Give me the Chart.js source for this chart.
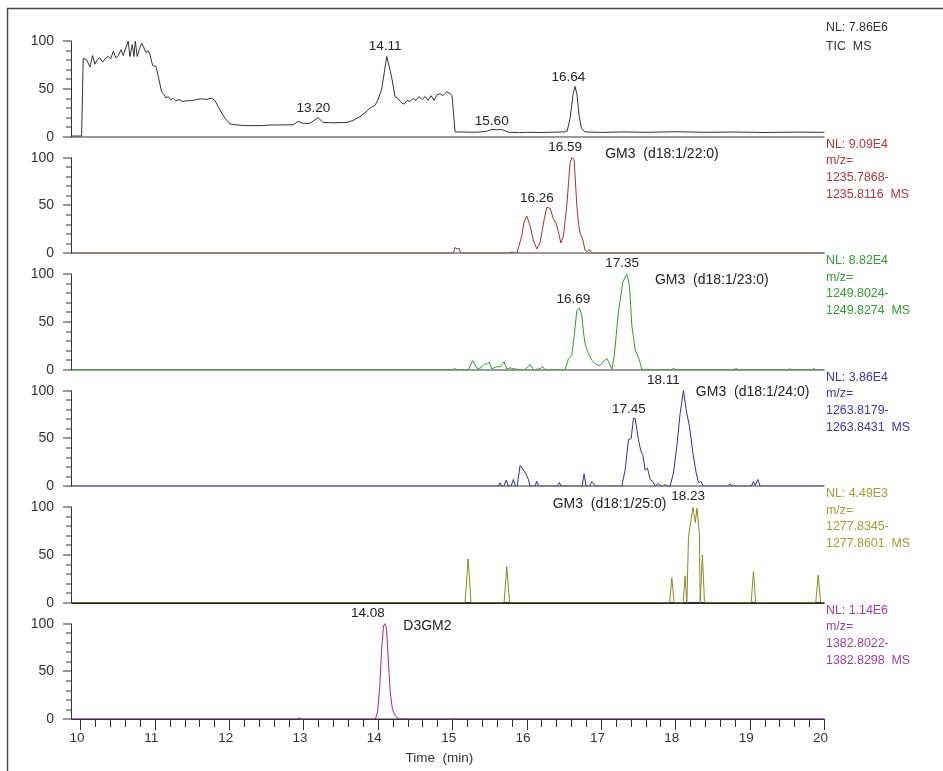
<!DOCTYPE html>
<html>
<head>
<meta charset="utf-8">
<script src="https://cdn.jsdelivr.net/npm/chart.js@4.4.1/dist/chart.umd.min.js"></script>
<style>
  html, body { margin: 0; padding: 0; background: #fff; }
  #wrap { position: relative; width: 943px; height: 771px; }
</style>
</head>
<body>
<div id="wrap"><canvas id="chrom"></canvas></div>
<script>
// [retention time (min), relative abundance (%)]
var ticTrace = [
  [9.88,0.7],[10.009,0.7],[10.031,82],[10.077,80.7],[10.121,73],[10.157,85],[10.188,76],[10.219,80.7],[10.256,82.5],[10.292,78],
  [10.323,81.5],[10.367,84],[10.400,81.5],[10.435,89.5],[10.471,82.5],[10.502,85],[10.538,91],[10.569,85],[10.605,93],[10.636,100],
  [10.659,84],[10.690,96.5],[10.713,84],[10.731,100],[10.757,84],[10.784,91],[10.817,98],[10.848,93],[10.874,88],[10.905,90],
  [10.928,86],[10.965,74.4],[11.009,73.7],[11.040,63],[11.086,47],[11.121,44],[11.144,40.4],[11.174,42],[11.207,38.5],[11.242,40.4],
  [11.278,37.7],[11.322,39],[11.368,36.8],[11.422,37.7],[11.489,37.7],[11.557,39],[11.624,39.7],[11.691,39],[11.758,40.4],[11.803,37.7],
  [11.870,28],[11.937,19.3],[12.005,13.4],[12.095,12.3],[12.229,11.6],[12.408,11.6],[12.587,12.3],[12.654,12.3],[12.852,12.5],[12.919,16],
  [12.987,14],[13.081,14],[13.188,20],[13.256,15],[13.390,14.5],[13.579,15],[13.659,17],[13.753,21],[13.834,26],[13.888,30],
  [13.955,33],[13.996,38.6],[14.045,50],[14.113,84],[14.157,70],[14.184,60],[14.224,42],[14.265,40],[14.305,36],[14.345,34],
  [14.386,38],[14.426,37],[14.467,40],[14.507,38],[14.547,42],[14.588,39],[14.628,42],[14.668,38],[14.709,43],[14.749,38],
  [14.789,44],[14.830,45],[14.870,43],[14.920,47],[14.964,45],[14.991,43],[15.032,5],[15.10,5],[15.30,4.6],[15.45,5.5],
  [15.53,7.7],[15.60,7.2],[15.66,7.5],[15.75,4.7],[15.90,4.3],[16.00,4.6],[16.20,4.4],[16.40,4.8],[16.50,5],[16.54,6],
  [16.58,20],[16.62,45],[16.645,52.6],[16.67,45],[16.70,22],[16.73,9],[16.78,5],[17.00,4.5],[17.30,5],[17.60,4.6],
  [18.00,5.2],[18.40,4.6],[18.80,4.9],[19.20,4.4],[19.60,4.8],[20.00,4.6]
];
var gm3c22Trace = [
  [9.88,0],[15.009,0],[15.032,6],[15.059,4.5],[15.086,5],[15.108,0],[15.772,0],[15.798,1.5],[15.825,0],[15.862,0],
  [15.929,18],[15.96,33],[15.996,39],[16.04,29],[16.085,13],[16.131,4.5],[16.175,11],[16.229,35],[16.265,48],[16.31,47],
  [16.354,36],[16.39,31],[16.421,22.5],[16.454,10.7],[16.489,18],[16.534,49.6],[16.579,95],[16.602,100],[16.633,98],[16.669,50],
  [16.693,30],[16.713,21],[16.75,14],[16.78,3],[16.807,2],[16.838,3.8],[16.871,0],[20,0]
];
var gm3c23Trace = [
  [9.88,0],[14.991,0],[15.03,1],[15.07,0],[15.21,0],[15.27,9.5],[15.33,1],[15.38,2],[15.435,6.6],[15.46,5.5],
  [15.49,7.9],[15.525,1],[15.59,3],[15.64,3],[15.69,8.4],[15.727,0.5],[15.77,2],[15.816,1],[15.906,0],[15.97,0],
  [16.04,5.3],[16.085,0],[16.175,1],[16.21,3.2],[16.24,0],[16.511,0],[16.556,11.3],[16.6,14.7],[16.633,35],[16.669,62],
  [16.704,64.6],[16.736,57],[16.758,40],[16.78,27],[16.825,17],[16.871,9.8],[16.915,6.5],[16.956,4.5],[16.982,4.6],[17.023,8],
  [17.072,12],[17.103,7],[17.14,0.5],[17.171,14],[17.229,60.4],[17.288,92],[17.342,100],[17.377,88],[17.409,46],[17.454,21],
  [17.511,10],[17.543,0],[17.94,0],[17.97,1.5],[18.0,0],[18.785,0],[18.81,1.3],[18.84,0],[19.51,0],[19.54,1],
  [19.565,0],[19.835,0],[19.86,1.2],[19.89,0],[20,0]
];
var gm3c24Trace = [
  [9.88,0],[15.614,0],[15.637,3.5],[15.664,0],[15.69,0],[15.718,6.2],[15.75,0],[15.785,0],[15.816,7],[15.845,0],
  [15.866,0],[15.906,21.5],[15.942,18],[15.987,12.5],[16.018,7],[16.04,0],[16.108,0],[16.131,5.2],[16.155,0],[16.41,0],
  [16.435,4],[16.458,0],[16.74,0],[16.767,13],[16.794,0],[16.841,0],[16.871,5],[16.892,3],[16.915,0],[17.274,0],
  [17.318,16.7],[17.363,48.6],[17.4,50],[17.431,71.2],[17.453,71],[17.498,48.6],[17.53,37],[17.557,33],[17.588,16.7],[17.619,19],
  [17.655,7],[17.691,5],[17.722,0],[17.767,3],[17.803,0],[17.83,0],[17.857,1.7],[17.884,0],[17.924,0],[17.969,14],
  [18.014,41.7],[18.058,76],[18.103,100],[18.139,80],[18.184,62.5],[18.23,35],[18.274,14],[18.305,3.5],[18.337,5],[18.372,0],
  [18.698,0],[18.731,2.4],[18.765,0],[19.014,0],[19.045,5],[19.068,1],[19.104,7],[19.135,0],[20,0]
];
var gm3c25Trace = [
  [9.88,0],[15.166,0],[15.207,45.8],[15.247,0],[15.69,0],[15.727,38],[15.765,0],[17.917,0],[17.947,26],[17.978,0],
  [18.099,0],[18.126,28],[18.149,0],[18.171,69],[18.23,100],[18.262,84],[18.285,99],[18.318,72],[18.328,0],[18.358,50],
  [18.386,0],[19.014,0],[19.045,33],[19.074,0],[19.882,0],[19.915,29],[19.949,0],[20,0]
];
var d3gm2Trace = [
  [9.88,0],[12.906,0],[12.937,1.5],[12.966,0],[13.96,0],[13.99,8],[14.02,35],[14.045,75],[14.07,98],[14.09,100],
  [14.11,95],[14.135,60],[14.16,28],[14.19,10],[14.23,3],[14.28,0.5],[14.32,0],[20,0]
];

// header text at the right of each trace
var ticInfo = ['NL: 7.86E6', 'TIC  MS'];
var gm3c22Info = ['NL: 9.09E4', 'm/z=', '1235.7868-', '1235.8116  MS'];
var gm3c23Info = ['NL: 8.82E4', 'm/z=', '1249.8024-', '1249.8274  MS'];
var gm3c24Info = ['NL: 3.86E4', 'm/z=', '1263.8179-', '1263.8431  MS'];
var gm3c25Info = ['NL: 4.49E3', 'm/z=', '1277.8345-', '1277.8601  MS'];
var d3gm2Info = ['NL: 1.14E6', 'm/z=', '1382.8022-', '1382.8298  MS'];

// compound names [panel, text, time, abundance] and peak apex labels [panel, text, time, abundance]
var compoundNames = [
  [1, 'GM3  (d18:1/22:0)', 17.05, 104],
  [2, 'GM3  (d18:1/23:0)', 17.72, 94],
  [3, 'GM3  (d18:1/24:0)', 18.27, 98.6],
  [4, 'GM3  (d18:1/25:0)', 16.345, 103.7],
  [5, 'D3GM2', 14.336, 97.7]
];
var peakLabels = [
  [0, '14.11', 14.09, 94.7], [0, '13.20', 13.125, 29.9], [0, '16.64', 16.556, 62.5], [0, '15.60', 15.525, 15.8],
  [1, '16.59', 16.511, 111], [1, '16.26', 16.131, 57.6],
  [2, '16.69', 16.623, 73.3], [2, '17.35', 17.278, 111.7],
  [3, '17.45', 17.37, 81], [3, '18.11', 17.833, 111.3],
  [4, '18.23', 18.166, 111.8],
  [5, '14.08', 13.858, 111]
];

var xTickLabels = [10, 11, 12, 13, 14, 15, 16, 17, 18, 19, 20];
var yTickLabels = [0, 50, 100];

var FONT = '"Liberation Sans", Arial, sans-serif';

var panels = [
  { id: 'p1', trace: ticTrace, info: ticInfo, line: '#333333', text: '#333333', base: '#9a9a9a', gap: 18.4 },
  { id: 'p2', trace: gm3c22Trace, info: gm3c22Info, line: '#a83232', text: '#b03838', base: '#9a9a9a', gap: 16.6 },
  { id: 'p3', trace: gm3c23Trace, info: gm3c23Info, line: '#2e9e2e', text: '#2ea02e', base: '#9a9a9a', gap: 16.6 },
  { id: 'p4', trace: gm3c24Trace, info: gm3c24Info, line: '#2f2f9c', text: '#3838ac', base: '#9a9a9a', gap: 16.6 },
  { id: 'p5', trace: gm3c25Trace, info: gm3c25Info, line: '#8c8c1c', text: '#a0a030', base: '#2a2a2a', gap: 16.6 },
  { id: 'p6', trace: d3gm2Trace, info: d3gm2Info, line: '#9c2a9c', text: '#a03ca6', base: '#9a9a9a', gap: 16.6 }
];

var scales = {
  x: {
    type: 'linear', position: 'bottom', min: 9.88, max: 20,
    afterBuildTicks: function(scale) {
      var t = [];
      for (var k = 0; k <= 50; k++) t.push({ value: 10 + k * 0.2 });
      scale.ticks = t;
    },
    afterFit: function(scale) { scale.height = 51.8; },
    border: { display: true, color: '#333', width: 1 },
    grid: {
      drawOnChartArea: false, tickLength: 11, tickColor: '#333', tickWidth: 1,
      tickBorderDash: function(c) {
        var v = c.tick ? c.tick.value : 0;
        return Math.abs(v - Math.round(v)) < 1e-6 ? [] : [7, 100];
      }
    },
    ticks: {
      autoSkip: false, maxRotation: 0, padding: 0, labelOffset: -4, color: '#333',
      font: { family: FONT, size: 13.5 },
      callback: function(v) {
        var r = Math.round(v);
        return Math.abs(v - r) < 1e-6 && xTickLabels.indexOf(r) >= 0 ? String(r) : '';
      }
    }
  }
};

panels.forEach(function(p, i) {
  scales[p.id] = {
    type: 'linear', position: 'left', stack: 'panels', stackWeight: 1, weight: panels.length - i,
    min: 0, max: 122,
    afterBuildTicks: function(scale) {
      var t = [];
      for (var v = 0; v <= 100; v += 10) t.push({ value: v });
      scale.ticks = t;
    },
    afterFit: function(scale) { scale.width = 72; },
    border: { display: false },
    grid: {
      drawOnChartArea: true, tickLength: 9, tickColor: '#333', tickWidth: 1,
      color: function(c) { return c.tick && c.tick.value === 0 ? p.base : 'rgba(0,0,0,0)'; },
      lineWidth: function(c) { return c.tick && c.tick.value === 0 ? 2 : 0; },
      tickBorderDash: function(c) { return c.tick && c.tick.value % 50 === 0 ? [] : [0, 3, 6, 100]; }
    },
    ticks: {
      autoSkip: false, padding: 9, color: '#333',
      font: { family: FONT, size: 14 },
      callback: function(v) { return yTickLabels.indexOf(v) >= 0 ? String(v) : ''; }
    }
  };
});

var decor = {
  id: 'decor',
  afterDraw: function(chart) {
    var ctx = chart.ctx, area = chart.chartArea, xs = chart.scales.x;
    ctx.save();
    // outer frame (top and left edges)
    ctx.strokeStyle = '#4a4a4a';
    ctx.lineWidth = 1.5;
    ctx.beginPath();
    ctx.moveTo(7.5, chart.height);
    ctx.lineTo(7.5, 8.5);
    ctx.lineTo(chart.width, 8.5);
    ctx.stroke();

    panels.forEach(function(p) {
      var ys = chart.scales[p.id];
      // y axis line runs only from 0 to 100
      ctx.strokeStyle = '#333';
      ctx.lineWidth = 1;
      ctx.beginPath();
      ctx.moveTo(Math.round(area.left) - 0.5, ys.getPixelForValue(100));
      ctx.lineTo(Math.round(area.left) - 0.5, ys.getPixelForValue(0) + 0.5);
      ctx.stroke();
      // header text
      ctx.fillStyle = p.text;
      ctx.font = '12.4px ' + FONT;
      ctx.textAlign = 'left';
      ctx.textBaseline = 'middle';
      var y0 = ys.getPixelForValue(114);
      p.info.forEach(function(line, k) {
        ctx.fillText(line, area.right + 1.5, y0 + k * p.gap);
      });
    });

    ctx.fillStyle = '#222';
    ctx.textBaseline = 'middle';
    ctx.font = '14px ' + FONT;
    ctx.textAlign = 'left';
    compoundNames.forEach(function(c) {
      var ys = chart.scales[panels[c[0]].id];
      ctx.fillText(c[1], xs.getPixelForValue(c[2]), ys.getPixelForValue(c[3]));
    });
    ctx.font = '13.5px ' + FONT;
    ctx.textAlign = 'center';
    peakLabels.forEach(function(l) {
      var ys = chart.scales[panels[l[0]].id];
      ctx.fillText(l[1], xs.getPixelForValue(l[2]), ys.getPixelForValue(l[3]));
    });
    // axis title
    ctx.fillStyle = '#333';
    ctx.font = '13.5px ' + FONT;
    ctx.fillText('Time  (min)', xs.getPixelForValue(14.82), 758);
    ctx.restore();
  }
};

new Chart(document.getElementById('chrom').getContext('2d'), {
  type: 'line',
  data: {
    datasets: panels.map(function(p) {
      return {
        data: p.trace.map(function(d) { return { x: d[0], y: d[1] }; }),
        xAxisID: 'x', yAxisID: p.id,
        borderColor: p.line, borderWidth: 1, pointRadius: 0, tension: 0, fill: false
      };
    })
  },
  options: {
    responsive: true, maintainAspectRatio: false, animation: false,
    layout: { padding: { top: 20.2, right: 118.5, bottom: 0, left: 0 } },
    plugins: { legend: { display: false }, tooltip: { enabled: false } },
    scales: scales
  },
  plugins: [decor]
});
</script>
</body>
</html>
